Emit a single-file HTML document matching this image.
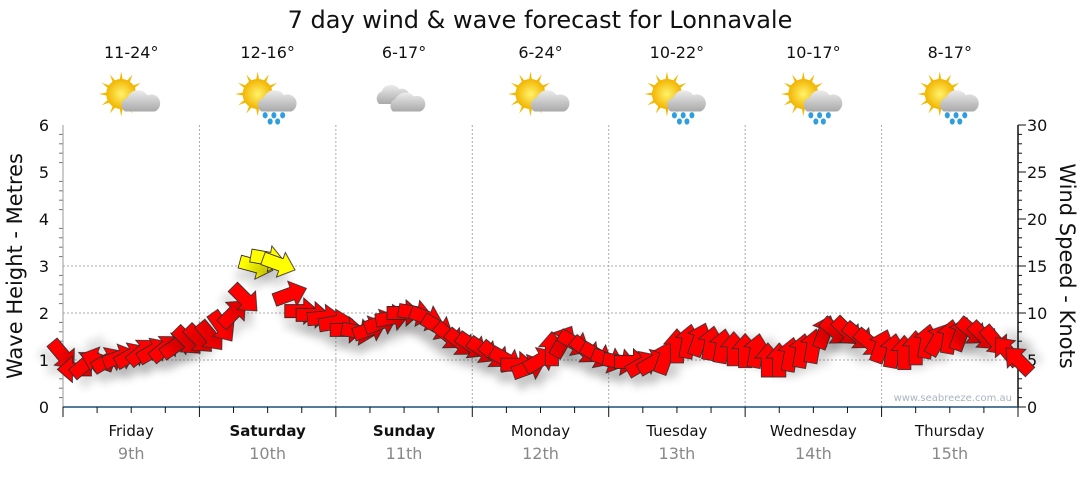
<!DOCTYPE html>
<html><head><meta charset="utf-8"><style>
body{margin:0;background:#fff;font-family:"Liberation Sans",sans-serif;}
svg text{font-family:"DejaVu Sans","Liberation Sans",sans-serif;}
</style></head><body>
<svg id="c" width="1080" height="475" xmlns="http://www.w3.org/2000/svg">
<defs>
<filter id="sh" x="-50%" y="-50%" width="200%" height="250%"><feDropShadow dx="0" dy="12" stdDeviation="4" flood-color="#000" flood-opacity="0.12"/></filter>
<radialGradient id="sun" cx="50%" cy="50%" r="50%"><stop offset="0" stop-color="#fff36b"/><stop offset="1" stop-color="#f2b400"/></radialGradient>
<linearGradient id="cloud" x1="0" y1="0" x2="0" y2="1"><stop offset="0" stop-color="#ececec"/><stop offset="1" stop-color="#a9a9a9"/></linearGradient>
</defs>
<text x="540" y="28" text-anchor="middle" font-size="24" fill="#111">7 day wind &amp; wave forecast for Lonnavale</text>
<text transform="translate(22,266) rotate(-90)" text-anchor="middle" font-size="21" fill="#111">Wave Height - Metres</text>
<text transform="translate(1060,266) rotate(90)" text-anchor="middle" font-size="21" fill="#111">Wind Speed - Knots</text>
<g id="grid"></g><g id="axes"></g><g id="wx"></g><g id="marks"></g>
<text x="1012" y="401" text-anchor="end" font-size="10" fill="#a8b4c4">www.seabreeze.com.au</text>
</svg>
<script>
const days=["Friday","Saturday","Sunday","Monday","Tuesday","Wednesday","Thursday"];
const dates=["9th","10th","11th","12th","13th","14th","15th"];
const boldDays=[false,true,true,false,false,false,false];
const temps=["11-24°","12-16°","6-17°","6-24°","10-22°","10-17°","8-17°"];
const icons=["suncloud","sunrain","cloud","suncloud","sunrain","sunrain","sunrain"];
const waveTicks=[0,1,2,3,4,5,6];
const waveGrid=[1,2,3];
const windTicks=[0,5,10,15,20,25,30];
const windKnots=[5.5,4.0,4.6,5.0,5.0,5.3,5.5,5.9,6.0,6.3,6.6,7.0,
7.2,7.5,8.5,10,11.5,15,15.8,15.2,12,10.2,9.8,9.5,
9.0,8.2,8.0,8.3,9.0,9.5,10,10,9.5,8.5,7.5,6.8,
6.5,6.0,5.5,5.0,4.5,4.2,5.0,6.2,7.0,6.8,6.0,5.5,
5.0,4.8,4.8,4.6,4.8,5.3,6.5,7.0,7.2,6.8,6.5,6.2,
6.0,6.0,5.0,5.0,5.6,6.0,6.5,8.0,8.0,8.0,7.5,6.8,
6.5,6.0,5.8,6.3,7.0,7.2,7.5,7.8,8.0,7.5,7.0,6.0,5.0];
const windDir=[50,180,-40,200,-30,-20,-30,-40,-30,-40,-35,45,
45,50,55,-45,45,15,10,20,-20,0,0,-5,
-10,0,10,-20,-20,-10,0,10,20,30,40,40,
35,35,40,30,0,-20,-30,-90,-60,30,40,30,
20,10,0,-30,-30,-70,-90,-80,-70,-80,-80,-90,
-90,-80,-90,-90,-80,-80,-80,-70,40,45,40,40,
-70,-80,-90,-90,-80,-60,-80,-70,40,45,50,-130,-135];
const X0=63,X1=1018,Y0=407,Y1=125;
const xIdx=i=>X0+(X1-X0)*i/(windKnots.length-1);
const yWave=v=>Y0-(Y0-Y1)*v/6;
const yWind=v=>Y0-(Y0-Y1)*v/30;
const NS="http://www.w3.org/2000/svg";
function mk(tag,attrs,parent){const e=document.createElementNS(NS,tag);for(const k in attrs)e.setAttribute(k,attrs[k]);parent.appendChild(e);return e;}
const grid=document.getElementById('grid'),axes=document.getElementById('axes'),wx=document.getElementById('wx'),marks=document.getElementById('marks');
const dw=(X1-X0)/7;
waveGrid.forEach(v=>{
  const l=mk('line',{x1:X0,x2:X1,y1:yWave(v),y2:yWave(v),stroke:'#aaa','stroke-dasharray':'2,2'},grid);
  
});
waveTicks.forEach(v=>{
  const t=mk('text',{x:49,y:yWave(v)+6,'text-anchor':'end','font-size':16,fill:'#111'},axes);t.textContent=v;
  
});
for(let m=0;m<=30;m++){const y=Y0-(Y0-Y1)*m/30;mk('line',{x1:X0-(m%5==0?0:4),x2:X0,y1:y,y2:y,stroke:'#777'},axes);}
windTicks.forEach(v=>{
  const t=mk('text',{x:1027,y:yWind(v)+6,'font-size':16,fill:'#111'},axes);t.textContent=v;
  
  mk('line',{x1:X1,x2:X1+8,y1:yWind(v),y2:yWind(v),stroke:'#111'},axes);
});
for(let k=1;k<30;k++){if(k%5)mk('line',{x1:X1,x2:X1+4,y1:yWind(k),y2:yWind(k),stroke:'#111'},axes);}
mk('line',{x1:X1,x2:X1,y1:Y1,y2:Y0,stroke:'#111','stroke-width':1.5},axes);
mk('line',{x1:X0,x2:X0,y1:Y1,y2:Y0,stroke:'#999'},axes);
mk('line',{x1:X0,x2:X1,y1:Y0,y2:Y0,stroke:'#1f4e79','stroke-width':1.5},axes);
for(let d=0;d<=7;d++){const x=X0+d*dw;
  if(d>0&&d<7){const l=mk('line',{x1:x,x2:x,y1:Y1,y2:Y0,stroke:'#aaa','stroke-dasharray':'2,2'},grid);
  }
  mk('line',{x1:x,x2:x,y1:Y0,y2:Y0+10,stroke:'#111'},axes);
  if(d<7)for(let q=1;q<4;q++)mk('line',{x1:x+q*dw/4,x2:x+q*dw/4,y1:Y0,y2:Y0+6,stroke:'#111'},axes);
}
days.forEach((n,d)=>{const cx=X0+(d+0.5)*dw;
  const t=mk('text',{x:cx,y:436,'text-anchor':'middle','font-size':15,fill:'#111','font-weight':boldDays[d]?'bold':'normal'},axes);t.textContent=n;
  
  const t2=mk('text',{x:cx,y:459,'text-anchor':'middle','font-size':16,fill:'#888'},axes);t2.textContent=dates[d];
  
  const t3=mk('text',{x:cx,y:58,'text-anchor':'middle','font-size':16,fill:'#111'},wx);t3.textContent=temps[d];
  
  const g=mk('g',{transform:`translate(${cx},99) scale(1.25)`},wx);
  
  const ic=icons[d];
  if(ic!=='cloud'){
    for(let r=0;r<12;r++){const a=r*Math.PI/6;mk('polygon',{points:`${-8+Math.cos(a-0.15)*10},${-4+Math.sin(a-0.15)*10} ${-8+Math.cos(a)*18},${-4+Math.sin(a)*18} ${-8+Math.cos(a+0.15)*10},${-4+Math.sin(a+0.15)*10}`,fill:'#f5b800'},g);}
    mk('circle',{cx:-8,cy:-4,r:12,fill:'url(#sun)'},g);
    mk('path',{d:'M-5,10 a6,6 0 0 1 2,-11 a9,9 0 0 1 16,-2 a7,7 0 0 1 6,13 z',fill:'url(#cloud)'},g);
    if(ic==='sunrain'){[[-2,13],[5,13],[12,13],[2,18],[8,18]].forEach(p=>mk('ellipse',{cx:p[0],cy:p[1],rx:2,ry:2.5,fill:'#2f9ee0'},g));}
  } else {
    mk('path',{d:'M-20,4 a6,6 0 0 1 2,-10 a8,8 0 0 1 14,-2 a6,6 0 0 1 4,12 z',fill:'url(#cloud)'},g);
    mk('path',{d:'M-9,10 a6,6 0 0 1 2,-10 a9,9 0 0 1 15,-2 a6,6 0 0 1 5,12 z',fill:'url(#cloud)'},g);
  }
});
const arrowPath='M-17,-6.5 L2,-6.5 L2,-13 L17,0 L2,13 L2,6.5 L-17,6.5 Z';
windKnots.forEach((k,i)=>{
  const a=mk('path',{d:arrowPath,transform:`translate(${xIdx(i)},${yWind(k)}) rotate(${windDir[i]})`,fill:k>=13?'#ffff00':'#ff0000',stroke:'#3a2a2a','stroke-width':0.9,filter:'url(#sh)'},marks);
  
  
});
</script>
</body></html>
